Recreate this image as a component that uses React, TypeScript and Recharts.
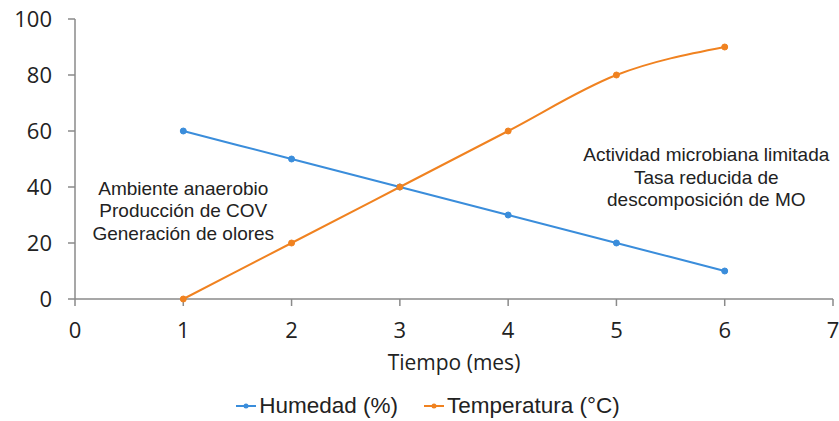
import React from "react";
import { LineChart, Line, XAxis, YAxis, Legend, ReferenceDot, Label } from "recharts";

const meses = [1, 2, 3, 4, 5, 6];
const humedad = [60, 50, 40, 30, 20, 10];
const temperatura = [0, 20, 40, 60, 80, 90];
const xTicks = [0, 1, 2, 3, 4, 5, 6, 7];
const yTicks = [0, 20, 40, 60, 80, 100];
const notaIzq = ["Ambiente anaerobio", "Producción de COV", "Generación de olores"];
const notaDer = ["Actividad microbiana limitada", "Tasa reducida de", "descomposición de MO"];
const notaIzqPos = { x: 1.0, y: 31.5 };
const notaDerPos = { x: 5.83, y: 43.6 };

const data = meses.map((m, i) => ({ mes: m, humedad: humedad[i], temperatura: temperatura[i] }));

const BLUE = "#3a8ddb";
const ORANGE = "#f08220";
const AXIS = "#8a8a8a";
const TXT = "#222222";

const multiLabel = (lines: string[]) => (props: any) => {
  const vb = props.viewBox || {};
  const cx = (vb.x ?? 0) + (vb.width ?? 0) / 2;
  const cy = (vb.y ?? 0) + (vb.height ?? 0) / 2;
  const lh = 22.5;
  const start = cy - ((lines.length - 1) * lh) / 2;
  return (
    <text
      x={cx}
      y={start}
      textAnchor="middle"
      fontFamily="'Liberation Sans', Arial, sans-serif"
      fontSize={19}
      fill={TXT}
    >
      {lines.map((l, i) => (
        <tspan key={i} x={cx} y={start + i * lh} dy="0.35em">
          {l}
        </tspan>
      ))}
    </text>
  );
};

const LegendContent = () => {
  const items = [
    { name: "Humedad (%)", color: BLUE },
    { name: "Temperatura (°C)", color: ORANGE },
  ];
  return (
    <div
      style={{
        display: "flex",
        justifyContent: "center",
        alignItems: "center",
        height: 30,
        paddingLeft: 22,
        fontFamily: "'Liberation Sans', Arial, sans-serif",
        fontSize: 22.5,
        color: TXT,
      }}
    >
      {items.map((it, i) => (
        <div key={i} style={{ display: "flex", alignItems: "center", marginLeft: i === 0 ? 0 : 25 }}>
          <svg width={22} height={12} style={{ marginRight: 2 }}>
            <line x1={1} y1={6} x2={21} y2={6} stroke={it.color} strokeWidth={2} />
            <circle cx={11} cy={6} r={2.5} fill={it.color} />
          </svg>
          <span>{it.name}</span>
        </div>
      ))}
    </div>
  );
};

export default function App() {
  return (
    <div style={{ position: "absolute", left: 0, top: 0, width: 839, height: 421, background: "#fff" }}>
      <LineChart width={839} height={421} data={data} margin={{ top: 19, right: 6, bottom: 0, left: 0 }}>
        <XAxis
          dataKey="mes"
          type="number"
          domain={[0, 7]}
          ticks={xTicks}
          interval={0}
          height={92}
          tickSize={7}
          tickMargin={16}
          stroke={AXIS}
          strokeWidth={1.5}
          tick={{ fill: TXT, fontSize: 22, fontFamily: "'Open Sans', sans-serif" }}
        >
          <Label
            value="Tiempo (mes)"
            position="insideBottom"
            offset={21}
            fill={TXT}
            fontSize={21}
            fontFamily="'Open Sans', sans-serif"
          />
        </XAxis>
        <YAxis
          type="number"
          domain={[0, 100]}
          ticks={yTicks}
          interval={0}
          width={75}
          tickSize={7}
          tickMargin={16}
          stroke={AXIS}
          strokeWidth={1.5}
          tick={{ fill: TXT, fontSize: 22, fontFamily: "'Open Sans', sans-serif" }}
        />
        <Legend verticalAlign="bottom" height={30} content={<LegendContent />} />
        <Line
          type="monotone"
          dataKey="humedad"
          name="Humedad (%)"
          stroke={BLUE}
          strokeWidth={2}
          dot={{ r: 3, fill: BLUE, stroke: BLUE, strokeWidth: 1 }}
          isAnimationActive={false}
        />
        <Line
          type="monotone"
          dataKey="temperatura"
          name="Temperatura (°C)"
          stroke={ORANGE}
          strokeWidth={2}
          dot={{ r: 3, fill: ORANGE, stroke: ORANGE, strokeWidth: 1 }}
          isAnimationActive={false}
        />
        <ReferenceDot x={notaIzqPos.x} y={notaIzqPos.y} r={0} fill="none" stroke="none" label={multiLabel(notaIzq)} />
        <ReferenceDot x={notaDerPos.x} y={notaDerPos.y} r={0} fill="none" stroke="none" label={multiLabel(notaDer)} />
      </LineChart>
    </div>
  );
}
